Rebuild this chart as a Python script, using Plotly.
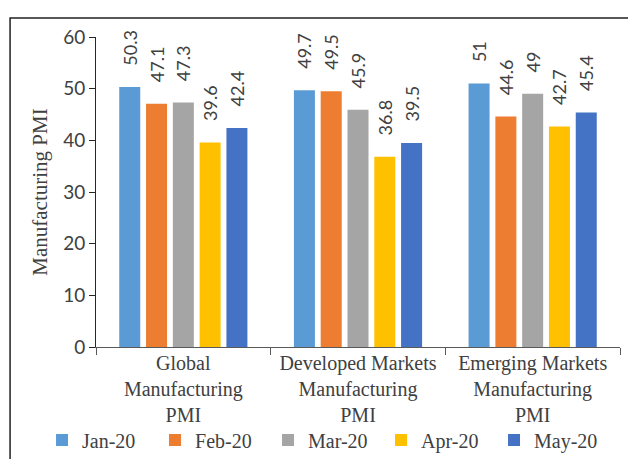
import plotly.graph_objects as go

categories = ["Global<br>Manufacturing<br>PMI",
              "Developed Markets<br>Manufacturing<br>PMI",
              "Emerging Markets<br>Manufacturing<br>PMI"]
series_names = ["Jan-20", "Feb-20", "Mar-20", "Apr-20", "May-20"]
jan = [50.3, 49.7, 51]
feb = [47.1, 49.5, 44.6]
mar = [47.3, 45.9, 49]
apr = [39.6, 36.8, 42.7]
may = [42.4, 39.5, 45.4]
colors = ["#5B9BD5", "#ED7D31", "#A5A5A5", "#FFC000", "#4472C4"]

serif = "Liberation Serif"
sans = "Lato"

fig = go.Figure()
for name, vals, col in zip(series_names, [jan, feb, mar, apr, may], colors):
    fig.add_trace(go.Bar(
        x=categories, y=vals, name=name,
        marker=dict(color=col, line=dict(width=0)),
        text=["\u00a0" * 4 + f"{v:g}" for v in vals], textposition="outside",
        textangle=-90, constraintext="none", cliponaxis=False,
        textfont=dict(family=sans, size=18, color="#404040"),
    ))

fig.update_layout(
    width=628, height=459,
    margin=dict(l=96, r=8, t=37, b=112, autoexpand=False),
    paper_bgcolor="white", plot_bgcolor="white",
    barmode="group", bargap=0.233, bargroupgap=0.216,
    showlegend=True,
    legend=dict(orientation="h", x=-0.103, xanchor="left", y=-0.30, yanchor="middle",
                bgcolor="rgba(0,0,0,0)",
                font=dict(family=serif, size=20, color="#404040"),
                entrywidth=68, itemwidth=30, tracegroupgap=0),
    xaxis=dict(showline=True, linecolor="#595959", linewidth=1, automargin=False,
               ticks="outside", tickson="boundaries", ticklen=7, tickcolor="#595959",
               ticklabelstandoff=-2,
               tickfont=dict(family=serif, size=20, color="#404040"),
               showgrid=False),
    yaxis=dict(range=[0, 60], dtick=10, showline=True, linecolor="#262626", linewidth=1,
               automargin=False,
               ticks="outside", ticklen=6, tickcolor="#262626",
               tickfont=dict(family=sans, size=19, color="#404040"),
               showgrid=False, zeroline=False,
               title=dict(text="Manufacturing PMI", standoff=9,
                          font=dict(family=serif, size=21, color="#404040"))),
    shapes=[dict(type="rect", xref="paper", yref="paper",
                 x0=-0.164, x1=1.1, y0=-0.6, y1=1.0613,
                 line=dict(color="#222", width=1.5), fillcolor="rgba(0,0,0,0)")],
)

fig.write_html("out.html", config={"displayModeBar": False},
               post_script="document.body.style.margin='0';")
